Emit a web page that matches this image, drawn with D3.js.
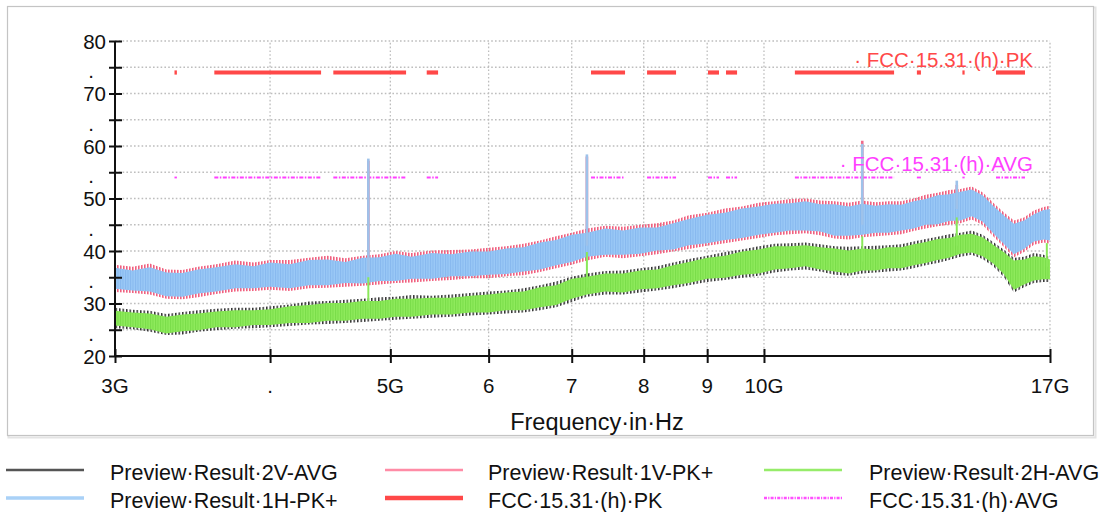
<!DOCTYPE html>
<html><head><meta charset="utf-8">
<script src="https://cdn.jsdelivr.net/npm/d3@7"></script>
<style>
html,body{margin:0;padding:0;background:#fff;}
svg text{font-family:"Liberation Sans",Arial,sans-serif;fill:#111;}
</style></head>
<body><svg id="c" width="1107" height="512"></svg>
<script>
// ---- data (frequency in GHz, level in dBµV/m) ----
const freqGHz = [3.00,3.10,3.20,3.30,3.40,3.50,3.62,3.75,3.88,4.00,4.15,4.30,4.45,4.60,4.75,4.90,5.05,5.20,5.40,5.60,5.80,6.00,6.20,6.40,6.60,6.80,7.00,7.20,7.45,7.70,7.95,8.20,8.45,8.70,9.00,9.30,9.60,9.90,10.2,10.5,10.8,11.1,11.4,11.7,12.0,12.3,12.6,12.9,13.2,13.5,13.8,14.1,14.4,14.7,15.0,15.3,15.6,15.9,16.2,16.5,16.8,17.0];

const pk1HHi = [36.8,36.3,36.9,35.9,35.8,36.5,36.9,37.5,37.1,37.8,37.5,38.3,38.4,37.9,38.7,38.8,39.5,38.9,39.6,39.4,39.9,39.9,40.5,40.7,41.6,42.1,43.1,43.5,44.3,43.9,44.5,44.5,45.3,46.1,46.9,47.3,48.1,48.5,49.0,49.1,49.5,48.9,48.9,48.5,49.0,48.6,48.9,48.8,49.5,49.9,50.6,50.8,51.3,51.7,50.6,48.6,46.8,45.2,45.8,47.0,47.8,48.0];
const pk1HLo = [32.8,32.5,32.3,31.4,31.3,31.9,32.3,32.9,32.9,33.2,32.9,33.5,33.5,33.9,33.8,34.3,34.3,34.7,34.7,35.2,35.2,35.5,35.6,36.1,36.5,37.3,37.9,38.9,39.3,39.3,39.5,40.1,40.3,41.1,41.5,42.1,42.5,43.1,43.5,43.9,43.9,43.7,42.9,42.9,43.1,43.5,43.5,43.9,44.3,45.0,45.1,45.7,45.8,46.6,45.6,43.4,41.4,39.4,40.4,41.8,42.2,42.0];
const pk1VHi = [37.4,37.0,37.6,36.5,36.4,37.0,37.5,38.2,37.8,38.3,38.3,38.7,39.1,38.6,39.1,39.4,40.0,39.6,40.1,40.2,40.3,40.6,40.9,41.4,42.0,42.8,43.5,44.3,44.8,44.6,45.0,45.3,45.8,46.8,47.3,48.1,48.5,49.2,49.5,49.9,50.0,49.6,49.5,49.2,49.6,49.3,49.5,49.5,50.0,50.7,51.1,51.6,51.8,52.3,51.2,49.2,47.4,45.8,46.4,47.7,48.4,48.6];
const pk1VLo = [32.2,32.0,31.7,30.9,30.8,31.2,31.8,32.3,32.4,32.6,32.4,32.9,33.0,33.2,33.4,33.6,33.9,34.0,34.3,34.5,34.8,34.8,35.2,35.4,36.0,36.7,37.4,38.2,38.9,38.6,39.0,39.4,39.9,40.4,41.0,41.5,42.0,42.5,43.0,43.2,43.4,43.0,42.4,42.2,42.6,42.8,43.0,43.2,43.8,44.3,44.7,45.0,45.3,46.0,45.0,42.8,40.8,38.8,39.8,41.2,41.6,41.4];
const avg2HHi = [28.6,28.3,28.1,27.5,27.9,28.1,28.5,28.7,28.7,28.9,29.5,29.7,30.1,30.1,30.5,30.5,30.9,30.9,31.1,31.1,31.5,31.7,32.1,32.3,33.1,33.5,34.7,35.1,35.7,35.7,36.3,36.5,37.3,37.9,38.7,39.1,39.9,40.3,40.9,40.9,41.1,40.7,40.5,40.1,40.5,40.3,40.7,40.7,41.3,41.7,42.3,42.5,43.1,43.3,42.6,41.2,39.8,38.2,38.4,39.0,38.8,38.4];
const avg2HLo = [25.8,25.5,25.1,24.3,24.7,24.9,25.5,25.5,25.9,25.9,26.3,26.3,26.7,26.7,27.1,27.1,27.5,27.5,27.9,27.9,28.3,28.3,28.7,28.7,29.3,29.7,30.9,31.7,32.3,32.1,32.7,32.9,33.5,33.9,34.7,34.9,35.5,35.7,36.5,36.7,37.1,36.5,36.1,35.7,36.3,36.3,36.7,36.7,37.3,37.7,38.3,38.7,39.5,39.7,39.0,37.6,35.6,32.6,33.6,34.4,34.6,34.6];
const avg2VHi = [29.2,28.8,28.6,28.0,28.4,28.7,29.0,29.2,29.2,29.5,29.8,30.4,30.5,30.7,30.9,31.2,31.3,31.6,31.5,31.7,32.0,32.3,32.5,32.9,33.5,34.2,35.1,35.7,36.2,36.3,36.7,37.1,37.8,38.5,39.1,39.8,40.3,40.9,41.4,41.5,41.6,41.3,40.9,40.8,40.9,41.0,41.1,41.3,41.8,42.3,42.7,43.2,43.5,43.9,43.1,41.7,40.3,38.7,38.9,39.6,39.3,38.9];
const avg2VLo = [25.3,25.1,24.6,24.0,24.1,24.6,24.9,25.2,25.3,25.5,25.7,26.0,26.1,26.3,26.5,26.7,26.9,27.1,27.3,27.5,27.7,27.9,28.1,28.3,28.7,29.3,30.3,31.3,31.7,31.7,32.1,32.5,32.9,33.5,34.1,34.5,34.9,35.3,35.9,36.3,36.5,36.1,35.5,35.3,35.7,35.9,36.1,36.3,36.7,37.3,37.7,38.3,38.9,39.3,38.5,37.1,35.1,32.1,33.1,33.9,34.1,34.1];

// narrow spurious peaks
const pkSpikeFreq = [4.80, 7.20, 12.00, 14.30];
const pkSpikeBase = [36.0, 41.0, 45.0, 48.0];
const pk1HSpikePeak = [57.6, 58.4, 60.4, 53.4];
const pk1VSpikePeak = [57.2, 58.0, 61.0, 52.6];
const avgSpikeFreq = [4.80, 7.20, 12.00, 14.30, 16.90];
const avgSpikeBase = [29.0, 33.0, 38.0, 41.0, 37.0];
const avg2HSpikePeak = [35.0, 39.8, 42.8, 46.4, 41.5];

// limit lines (defined only in segments)
const limitSegStart = [3.35, 3.607, 4.498, 5.349, 7.255, 8.05, 9.014, 9.32, 10.59, 13.28, 14.45, 15.38];
const limitSegEnd   = [3.365, 4.397, 5.148, 5.463, 7.728, 8.495, 9.20, 9.513, 12.73, 13.38, 14.51, 16.23];
const limitPK = 74;
const limitAVG = 54;

// axes
const xTickValues = [3, 4, 5, 6, 7, 8, 9, 10, 17];
const xTickLabels = ["3G", ".", "5G", "6", "7", "8", "9", "10G", "17G"];
const yMajorTicks = [20, 30, 40, 50, 60, 70, 80];
const yMinorTicks = [25, 35, 45, 55, 65, 75];
const xGridValues = [4, 5, 6, 7, 8, 9, 10, 17];
const yGridValues = [25, 30, 35, 40, 45, 50, 55, 60, 65, 70, 75, 80];

const legendNames = ["Preview·Result·2V-AVG", "Preview·Result·1V-PK+", "Preview·Result·2H-AVG",
                     "Preview·Result·1H-PK+", "FCC·15.31·(h)·PK", "FCC·15.31·(h)·AVG"];

// ---- drawing ----
const svg = d3.select("#c");
const x = d3.scaleLog().domain([3, 17]).range([115, 1050]);
const y = d3.scaleLinear().domain([20, 80]).range([356, 41]);

// stripe patterns to mimic the dense sweep texture
const defs = svg.append("defs");
function stripe(id, bg, fg, period, w) {
  const p = defs.append("pattern").attr("id", id).attr("patternUnits", "userSpaceOnUse")
    .attr("width", period).attr("height", 10);
  if (bg) p.append("rect").attr("width", period).attr("height", 10).attr("fill", bg);
  p.append("rect").attr("width", w).attr("height", 10).attr("fill", fg);
}
stripe("pBlue", "#9ac8f6", "#86b8ee", 2.5, 1);
stripe("pPink", null, "#f0607f", 3, 1.6);
stripe("pGreen", "#8eea5c", "#78dc48", 2.5, 1);
stripe("pBlack", null, "#333", 3.5, 1.5);

// frame
svg.append("rect").attr("x", 8.5).attr("y", 7.5).attr("width", 1087).attr("height", 430)
  .attr("fill", "none").attr("stroke", "#e4e4e4").attr("stroke-width", 2);
svg.append("rect").attr("x", 7.5).attr("y", 6.5).attr("width", 1086).attr("height", 429)
  .attr("fill", "#fff").attr("stroke", "#c4c4c4").attr("stroke-width", 1.2);

// grid
const grid = svg.append("g").attr("stroke", "#bdbdbd").attr("stroke-width", 1.3).attr("stroke-dasharray", "1.6,2.2");
grid.selectAll(".h").data(yGridValues).join("line")
  .attr("x1", x(3)).attr("x2", x(17)).attr("y1", d => y(d)).attr("y2", d => y(d));
grid.selectAll(".v").data(xGridValues).join("line")
  .attr("y1", y(20)).attr("y2", y(80)).attr("x1", d => x(d)).attr("x2", d => x(d));

// limit lines
const segs = limitSegStart.map((s, i) => [s, limitSegEnd[i]]);
svg.append("g").selectAll("line").data(segs).join("line")
  .attr("x1", d => x(d[0])).attr("x2", d => x(d[1]))
  .attr("y1", y(limitPK)).attr("y2", y(limitPK))
  .attr("stroke", "#ff4848").attr("stroke-width", 4.2);
svg.append("g").selectAll("line").data(segs).join("line")
  .attr("x1", d => x(d[0])).attr("x2", d => x(d[1]))
  .attr("y1", y(limitAVG)).attr("y2", y(limitAVG))
  .attr("stroke", "#ff40ff").attr("stroke-width", 1.8).attr("stroke-dasharray", "4,1.5,1.5,1.5");

// bands
function band(hi, lo, fill) {
  const data = freqGHz.map((f, i) => ({f, hi: hi[i], lo: lo[i]}));
  const area = d3.area().x(d => x(d.f)).y0(d => y(d.lo)).y1(d => y(d.hi));
  svg.append("path").datum(data).attr("d", area).attr("fill", fill);
}
function spikes(freqs, base, peaks, color, w) {
  svg.append("g").selectAll("line").data(freqs).join("line")
    .attr("x1", d => x(d)).attr("x2", d => x(d))
    .attr("y1", (d, i) => y(base[i])).attr("y2", (d, i) => y(peaks[i]))
    .attr("stroke", color).attr("stroke-width", w);
}
spikes(pkSpikeFreq, pkSpikeBase, pk1VSpikePeak, "#f06a8a", 2.6);
band(pk1VHi, pk1VLo, "url(#pPink)");
band(pk1HHi, pk1HLo, "url(#pBlue)");
spikes(pkSpikeFreq, pkSpikeBase, pk1HSpikePeak, "#9ec2ea", 2.6);
band(avg2VHi, avg2VLo, "url(#pBlack)");
band(avg2HHi, avg2HLo, "url(#pGreen)");
spikes(avgSpikeFreq, avgSpikeBase, avg2HSpikePeak, "#8ae85a", 2);

// axes
const fs = 20.5;
const yAxis = svg.append("g").attr("transform", `translate(${x(3)},0)`)
  .call(d3.axisLeft(y).tickValues(yMajorTicks.concat(yMinorTicks)).tickSize(6).tickFormat(""));
yAxis.select(".domain").attr("d", `M0,${y(80)}V${y(20)}`).attr("stroke", "#111").attr("stroke-width", 2);
yAxis.selectAll(".tick line").attr("x1", 7).attr("x2", -6).attr("stroke", "#111").attr("stroke-width", 2);
svg.append("g").selectAll("text").data(yMajorTicks).join("text")
  .attr("x", 106).attr("y", d => y(d) + 7.5).attr("text-anchor", "end")
  .attr("font-size", fs).text(d => d);
svg.append("g").selectAll("text").data(yMinorTicks).join("text")
  .attr("x", 91).attr("y", d => y(d) + 11).attr("text-anchor", "middle")
  .attr("font-size", fs).text(".");

const xAxis = svg.append("g").attr("transform", `translate(0,${y(20)})`)
  .call(d3.axisBottom(x).tickValues(xTickValues).tickSize(6).tickFormat(""));
xAxis.select(".domain").attr("d", `M${x(3)},0H${x(17)}`).attr("stroke", "#111").attr("stroke-width", 2);
xAxis.selectAll(".tick line").attr("y1", -7).attr("y2", 7).attr("stroke", "#111").attr("stroke-width", 2);
svg.append("g").selectAll("text").data(xTickValues).join("text")
  .attr("x", d => x(d)).attr("y", 393).attr("text-anchor", "middle")
  .attr("font-size", fs).text((d, i) => xTickLabels[i]);

svg.append("text").attr("x", 597).attr("y", 430).attr("text-anchor", "middle")
  .attr("font-size", 23.5).text("Frequency·in·Hz");

// limit labels
svg.append("text").attr("x", 1033).attr("y", 67).attr("text-anchor", "end")
  .attr("font-size", fs).style("fill", "#ff4848").text("· FCC·15.31·(h)·PK");
svg.append("text").attr("x", 1033).attr("y", 171).attr("text-anchor", "end")
  .attr("font-size", fs).style("fill", "#ff40ff").text("· FCC·15.31·(h)·AVG");

// legend
const lfs = 21.5;
const legColX = [6, 385, 764];
const legTextX = [110, 488, 869];
const legRowY = [470, 498];
const legStyles = [
  {c: "#555", w: 2.5, d: null},
  {c: "#ff8ca6", w: 2.5, d: null},
  {c: "#96ec6a", w: 2.5, d: null},
  {c: "#a9d1f7", w: 3.5, d: null},
  {c: "#ff4848", w: 4.5, d: null},
  {c: "#ff50ff", w: 2.5, d: "3,1.2,1.2,1.2"}
];
const leg = svg.append("g");
legendNames.forEach((name, i) => {
  const col = i % 3, row = Math.floor(i / 3);
  const s = legStyles[i];
  leg.append("line").attr("x1", legColX[col]).attr("x2", legColX[col] + 78)
    .attr("y1", legRowY[row]).attr("y2", legRowY[row])
    .attr("stroke", s.c).attr("stroke-width", s.w).attr("stroke-dasharray", s.d);
  leg.append("text").attr("x", legTextX[col]).attr("y", legRowY[row] + 9.5)
    .attr("font-size", lfs).text(name);
});
</script></body></html>
